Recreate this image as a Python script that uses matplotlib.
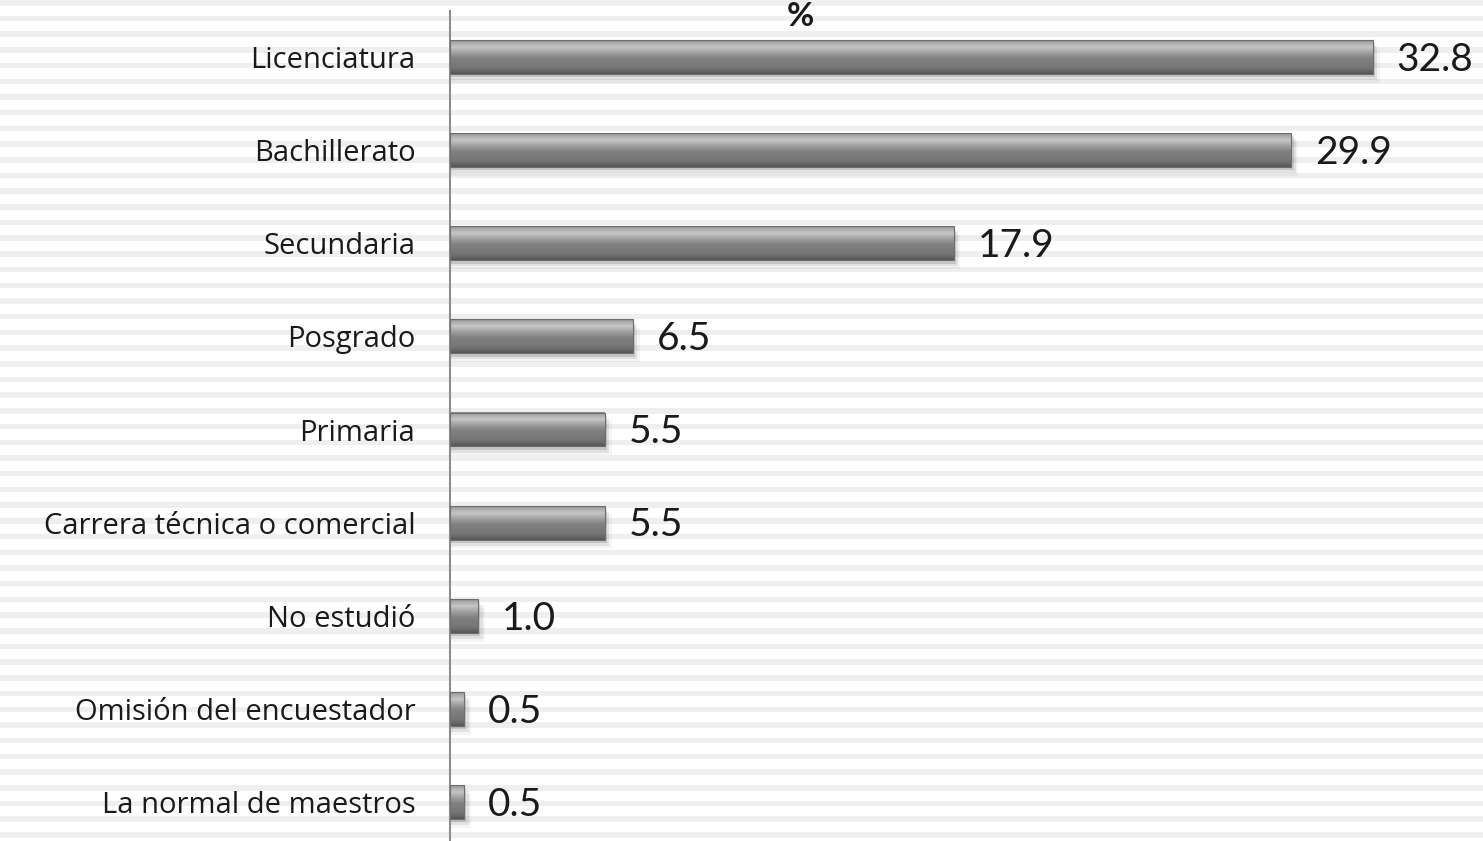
import matplotlib
matplotlib.use("Agg")
import matplotlib.pyplot as plt
import numpy as np
from matplotlib.colors import LinearSegmentedColormap
from matplotlib.patches import Rectangle

plt.rcParams["font.family"] = ["Lato", "DejaVu Sans"]

# data, top to bottom
categories = [
    "Licenciatura",
    "Bachillerato",
    "Secundaria",
    "Posgrado",
    "Primaria",
    "Carrera técnica o comercial",
    "No estudió",
    "Omisión del encuestador",
    "La normal de maestros",
]
values = [32.8, 29.9, 17.9, 6.5, 5.5, 5.5, 1.0, 0.5, 0.5]
title = "%"

W, H, DPI = 1483, 841, 100
fig = plt.figure(figsize=(W / DPI, H / DPI), dpi=DPI)
fig.patch.set_facecolor("white")

# striped background over the whole figure
period, band = 15.7, 5.5
y0 = 0.0
while y0 < H:
    fig.patches.append(Rectangle((0, 1 - (y0 + band) / H), 1, band / H,
                                 transform=fig.transFigure, facecolor="#efefef",
                                 edgecolor="none", zorder=-10))
    y0 += period

left_px, top_px, bot_px = 450, 10.5, 848.5
ax = fig.add_axes([left_px / W, 1 - bot_px / H, 1 - left_px / W, (bot_px - top_px) / H])
ax.patch.set_alpha(0)

n = len(categories)
ypos = np.arange(n)
bar_h = 0.365

# vertical shading profile for the bevelled bars (top -> bottom)
bar_cmap = LinearSegmentedColormap.from_list("bevel", [
    (0.00, "#8a8a8a"),
    (0.06, "#a8a8a8"),
    (0.20, "#c6c6c6"),
    (0.40, "#9a9a9a"),
    (0.55, "#808080"),
    (0.80, "#777777"),
    (0.92, "#666666"),
    (1.00, "#555555"),
])
grad = np.linspace(0, 1, 64).reshape(-1, 1)

for y, v in zip(ypos, values):
    # soft drop shadow
    for k, a in enumerate([0.12, 0.08, 0.04]):
        ax.add_patch(Rectangle((0, y - bar_h / 2 + 0.035 + 0.03 * k), v + 0.08 * (k + 1), bar_h,
                               facecolor="black", alpha=a, edgecolor="none", zorder=1))
    ax.imshow(grad, cmap=bar_cmap, aspect="auto", interpolation="bilinear",
              extent=[0, v, y + bar_h / 2, y - bar_h / 2], zorder=2)
    ax.add_patch(Rectangle((0, y - bar_h / 2), v, bar_h, facecolor="none",
                           edgecolor="#6e6e6e", linewidth=0.8, zorder=3))
    ax.annotate(f"{v:.1f}", xy=(v, y), xytext=(17, -2), textcoords="offset points",
                ha="left", va="center", fontsize=28, color="#1a1a1a")

ax.set_xlim(0, (W - left_px) / 28.14)
ax.set_ylim(n - 0.5, -0.5)
ax.set_yticks(ypos)
ax.set_yticklabels(categories, fontsize=21, color="#1a1a1a",
                   family=["Open Sans", "DejaVu Sans"])
ax.tick_params(axis="y", length=0, pad=25)
ax.set_xticks([])
for s in ["top", "right", "bottom"]:
    ax.spines[s].set_visible(False)
ax.spines["left"].set_color("#8c8c8c")
ax.spines["left"].set_linewidth(1.5)

fig.text(800 / W, 1 - 26 / H, title, ha="center", va="baseline",
         fontsize=24, fontweight="bold", color="#1a1a1a")

fig.savefig("out.png", dpi=DPI)
